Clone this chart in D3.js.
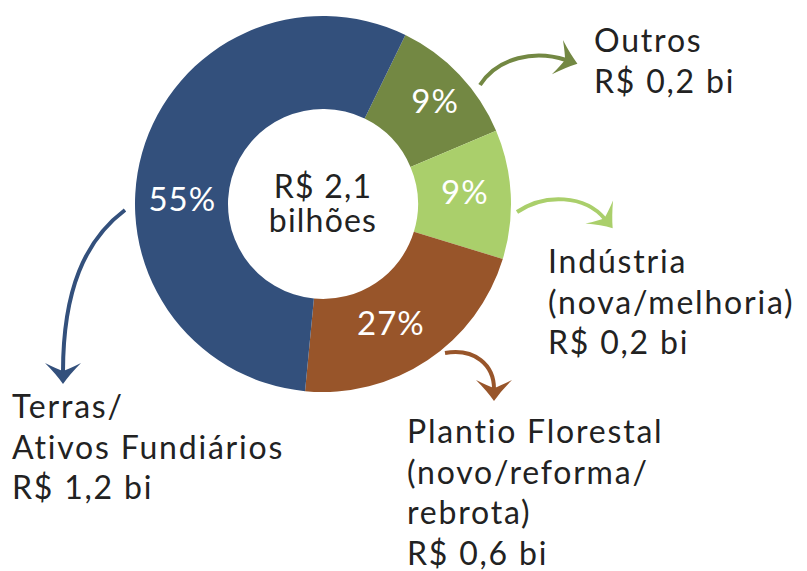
<!DOCTYPE html>
<html>
<head>
<meta charset="utf-8">
<script src="https://cdn.jsdelivr.net/npm/d3@7"></script>
<style>
  body { margin: 0; background: #fff; }
  svg text { font-family: Lato, 'Open Sans', sans-serif; }
</style>
</head>
<body>
<svg id="chart" width="807" height="571"></svg>
<script>
// slices, clockwise from the top-right
var categories = ['Outros', 'Indústria', 'Plantio Florestal', 'Terras/Ativos Fundiários'];
var sliceShares = [11.4, 11.1, 21.8, 55.7]; // angle share as drawn
var pctLabels = ['9%', '9%', '27%', '55%'];
var valuesBi = ['0,2', '0,2', '0,6', '1,2'];
var labelLines = [
  ['Outros'],
  ['Indústria', '(nova/melhoria)'],
  ['Plantio Florestal', '(novo/reforma/', 'rebrota)'],
  ['Terras/', 'Ativos Fundiários']
];
var totalLines = ['R$ 2,1', 'bilhões'];

var colors = ['#738843', '#aacf6b', '#98552a', '#33507c'];

var svg = d3.select('#chart'),
  cx = 323, cy = 204,
  rOuter = 188, rInner = 95,
  deg = Math.PI / 180,
  start = 26 * deg;

var g = svg.append('g').attr('transform', 'translate(' + cx + ',' + cy + ')');

var pie = d3.pie().sort(null).value(function(d) { return d; })
  .startAngle(start).endAngle(start + 2 * Math.PI);
var arcs = pie(sliceShares);

var arc = d3.arc().innerRadius(rInner).outerRadius(rOuter);
var labelArc = d3.arc().innerRadius(142).outerRadius(142);

g.selectAll('path.slice')
  .data(arcs)
  .enter().append('path')
  .attr('class', 'slice')
  .attr('fill', function(d, i) { return colors[i]; })
  .attr('d', arc);

// percentage labels sit near the centroid, nudged like the original
var nudge = [[9, -5], [0, -5], [-11, 1], [-4, 34]];
g.selectAll('text.pct')
  .data(arcs)
  .enter().append('text')
  .attr('class', 'pct')
  .attr('text-anchor', 'middle')
  .attr('fill', '#fff')
  .style('font-size', '33px')
  .style('letter-spacing', '1px')
  .attr('transform', function(d, i) {
    var c = labelArc.centroid(d);
    return 'translate(' + (c[0] + nudge[i][0]) + ',' + (c[1] + nudge[i][1]) + ')';
  })
  .attr('dy', '0.36em')
  .text(function(d, i) { return pctLabels[i]; });

// total in the hole
g.selectAll('text.total')
  .data(totalLines)
  .enter().append('text')
  .attr('class', 'total')
  .attr('text-anchor', 'middle')
  .attr('fill', '#222')
  .style('font-size', '32px')
  .style('letter-spacing', '1.2px')
  .attr('y', function(d, i) { return -6 + i * 34; })
  .text(function(d) { return d; });

// callouts: text block + curved arrow
var blockPos = [[594, 52], [548, 273], [407, 443], [12, 418]];
var arrowPaths = [
  'M480,85 C498,57 535,50 566,60',
  'M517,212 C545,193 585,195 605,219',
  'M445,353 C475,348 494,365 494,389',
  'M125,210 C85,240 63,290 63,372'
];

var defs = svg.append('defs');
colors.forEach(function(c, i) {
  defs.append('marker')
    .attr('id', 'head' + i)
    .attr('markerUnits', 'userSpaceOnUse')
    .attr('viewBox', '-12 -20 26 40')
    .attr('markerWidth', 26)
    .attr('markerHeight', 40)
    .attr('refX', 0)
    .attr('refY', 0)
    .attr('orient', 'auto')
    .append('path')
    .attr('d', 'M12,0 Q2,-7 -9,-18 Q-3,-6 -1,0 Q-3,6 -9,18 Q2,7 12,0 Z')
    .attr('fill', c);
});

svg.selectAll('path.arrow')
  .data(arrowPaths)
  .enter().append('path')
  .attr('class', 'arrow')
  .attr('d', function(d) { return d; })
  .attr('fill', 'none')
  .attr('stroke', function(d, i) { return colors[i]; })
  .attr('stroke-width', 4)
  .attr('marker-end', function(d, i) { return 'url(#head' + i + ')'; });

var blocks = svg.selectAll('g.callout')
  .data(categories)
  .enter().append('g')
  .attr('class', 'callout')
  .attr('transform', function(d, i) { return 'translate(' + blockPos[i][0] + ',' + blockPos[i][1] + ')'; });

blocks.append('text')
  .attr('fill', '#222')
  .style('font-size', '32px')
  .style('letter-spacing', '1.8px')
  .selectAll('tspan')
  .data(function(d, i) { return labelLines[i].concat(['R$ ' + valuesBi[i] + ' bi']); })
  .enter().append('tspan')
  .attr('x', 0)
  .attr('y', function(d, j) { return j * 40.5; })
  .text(function(d) { return d; });
</script>
</body>
</html>
